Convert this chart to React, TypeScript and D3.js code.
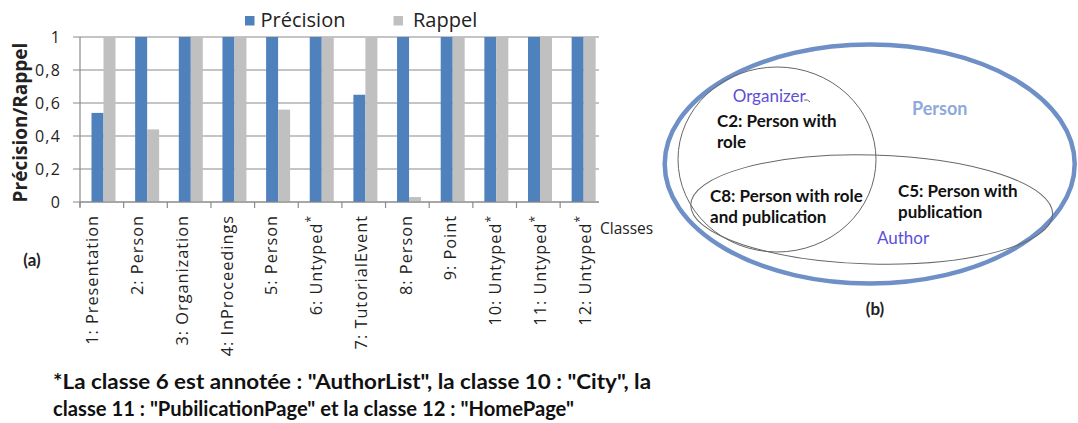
import React from "react";
import * as d3 from "d3";

const categories = [
  "1: Presentation",
  "2: Person",
  "3: Organization",
  "4: InProceedings",
  "5: Person",
  "6: Untyped",
  "7: TutorialEvent",
  "8: Person",
  "9: Point",
  "10: Untyped",
  "11: Untyped",
  "12: Untyped",
];
const starredClasses = [6, 10, 11, 12];
const seriesNames = ["Précision", "Rappel"];
const precision = [0.54, 1, 1, 1, 1, 1, 0.65, 1, 1, 1, 1, 1];
const rappel = [1, 0.44, 1, 1, 0.56, 1, 1, 0.03, 1, 1, 1, 1];
const yTicks = [0, 0.2, 0.4, 0.6, 0.8, 1];
const seriesColors = ["#4F81BD", "#C0C0C0"];

const footnoteLines = [
  '*La classe 6 est annotée : "AuthorList", la classe 10 : "City", la',
  'classe 11 : "PubilicationPage" et la classe 12 : "HomePage"',
];
const footnoteWidths = [598, 521];

const FONT = "'Open Sans', sans-serif";
const LATO = "Lato, sans-serif";

export default function App() {
  const left = 80;
  const right = 599;
  const top = 37;
  const bottom = 202;
  const step = 43.65;

  const x0 = d3
    .scaleBand<string>()
    .domain(categories)
    .range([left, left + step * categories.length])
    .padding(0);
  const x1 = d3.scaleBand<string>().domain(seriesNames).range([11.5, 35.5]).padding(0);
  const xLabel = d3.scalePoint<string>().domain(categories).range([92.5, 585]);
  const y = d3.scaleLinear().domain([0, 1]).range([bottom, top]);

  const fmt = (v: number) => d3.format("~g")(v).replace(".", ",");

  const values = [precision, rappel];

  const gridColor = "#8a8a8a";

  return (
    <svg
      width={1078}
      height={423}
      style={{ position: "absolute", left: 0, top: 0, background: "#fff" }}
    >
      <rect x={0} y={0} width={1078} height={423} fill="#fff" />

      {/* gridlines + y ticks */}
      {yTicks.map((t) => (
        <g key={t}>
          <line x1={left - 7} x2={right} y1={y(t)} y2={y(t)} stroke={gridColor} strokeWidth={1.2} />
          <text
            x={61}
            y={y(t)}
            dy="0.36em"
            textAnchor="end"
            fontFamily={FONT}
            fontSize={16}
            letterSpacing={1.2}
            fill="#222"
          >
            {fmt(t)}
          </text>
        </g>
      ))}

      {/* bars */}
      {categories.map((c, i) => (
        <g key={c} transform={`translate(${x0(c)},0)`}>
          {seriesNames.map((s, si) => (
            <rect
              key={s}
              x={x1(s)!}
              y={y(values[si][i])}
              width={x1.bandwidth()}
              height={bottom - y(values[si][i])}
              fill={seriesColors[si]}
            />
          ))}
        </g>
      ))}

      {/* axes */}
      <line x1={left} x2={left} y1={top} y2={bottom + 5} stroke={gridColor} strokeWidth={1.2} />
      <line x1={left} x2={right} y1={bottom} y2={bottom} stroke={gridColor} strokeWidth={1.2} />
      {categories.map((c) => (
        <line key={c} x1={x0(c)!} x2={x0(c)!} y1={bottom} y2={bottom + 6} stroke={gridColor} strokeWidth={1.2} />
      ))}

      {/* x labels */}
      {categories.map((c, i) => {
        const cx = xLabel(c)!;
        const starred = starredClasses.includes(i + 1);
        return (
          <text
            key={c}
            transform={`translate(${cx},215) rotate(-90)`}
            textAnchor="end"
            dy="0.35em"
            fontFamily={FONT}
            fontSize={16.3}
            letterSpacing={1}
            fill="#222"
          >
            {c}
            {starred ? (
              <tspan fontSize={12} dy="-0.55em">
                *
              </tspan>
            ) : null}
          </text>
        );
      })}

      {/* y title */}
      <text
        transform={`translate(27,${(top + 208) / 2}) rotate(-90)`}
        textAnchor="middle"
        fontFamily={FONT}
        fontWeight="bold"
        fontSize={19}
        fill="#222"
      >
        Précision/Rappel
      </text>

      {/* legend */}
      <rect x={245} y={16} width={9.5} height={9.5} fill={seriesColors[0]} />
      <text x={260.5} y={26.7} fontFamily={FONT} fontSize={20} fill="#222">
        {seriesNames[0]}
      </text>
      <rect x={393.5} y={16} width={9.5} height={9.5} fill={seriesColors[1]} />
      <text x={413} y={26.7} fontFamily={FONT} fontSize={20} fill="#222">
        {seriesNames[1]}
      </text>

      <text x={600} y={234} fontFamily={FONT} fontSize={15.5} fill="#222">
        Classes
      </text>
      <text x={32} y={266} textAnchor="middle" fontFamily={LATO} fontWeight="bold" fontSize={17} fill="#222">
        (a)
      </text>

      {/* footnote */}
      {footnoteLines.map((l, i) => (
        <text
          key={i}
          x={53}
          y={389 + i * 27}
          fontFamily={LATO}
          fontWeight="bold"
          fontSize={20}
          textLength={footnoteWidths[i]}
          lengthAdjust="spacingAndGlyphs"
          fill="#111"
        >
          {l}
        </text>
      ))}

      {/* Venn diagram (b) */}
      <ellipse cx={869.7} cy={164} rx={205} ry={119.5} fill="none" stroke="#6E90C6" strokeWidth={4.5} />
      <ellipse cx={777} cy={159.5} rx={99} ry={92.5} fill="none" stroke="#666" strokeWidth={1} />
      <ellipse
        cx={871.7}
        cy={209.5}
        rx={181}
        ry={54.5}
        fill="none"
        stroke="#666"
        strokeWidth={1}
        transform="rotate(1.5 871.7 209.5)"
      />
      <path d="M804,100 q4,-1 6,2" fill="none" stroke="#666" strokeWidth={1} />

      <text x={732.7} y={102} fontFamily={LATO} fontSize={17} fill="#5B4FD8">
        Organizer
      </text>
      <text x={912} y={115} fontFamily={LATO} fontWeight="bold" fontSize={18} fill="#8EAADB">
        Person
      </text>
      <g fontFamily={LATO} fontWeight="bold" fontSize={17} fill="#111">
        <text x={717} y={127}>C2: Person with</text>
        <text x={717} y={148}>role</text>
        <text x={710} y={202}>C8: Person with role</text>
        <text x={710} y={223}>and publication</text>
        <text x={898} y={197}>C5: Person with</text>
        <text x={898} y={218}>publication</text>
      </g>
      <text x={877} y={244} fontFamily={LATO} fontSize={17} fill="#5B4FD8">
        Author
      </text>
      <text x={875} y={315} textAnchor="middle" fontFamily={LATO} fontWeight="bold" fontSize={17} fill="#222">
        (b)
      </text>
    </svg>
  );
}
